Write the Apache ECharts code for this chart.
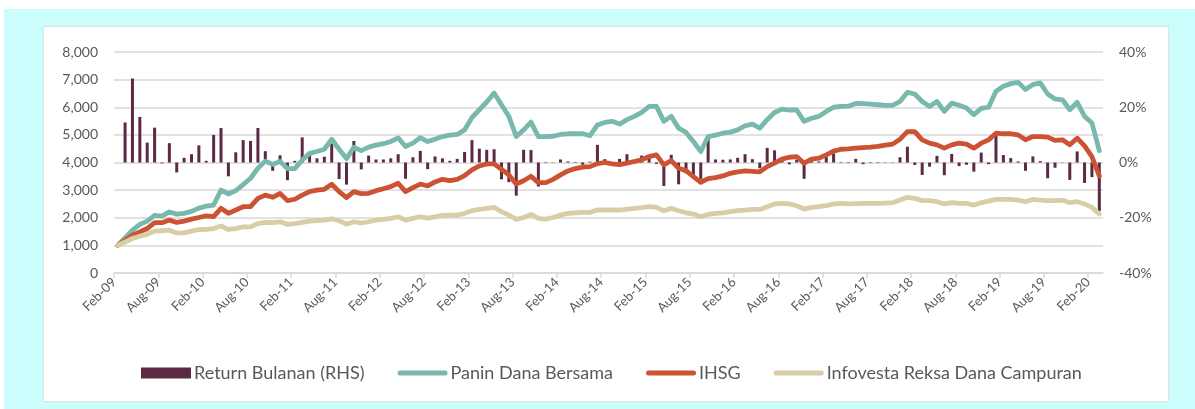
<!DOCTYPE html>
<html><head><meta charset="utf-8">
<script src="https://cdn.jsdelivr.net/npm/echarts@6/dist/echarts.min.js"></script>
<style>
html,body{margin:0;padding:0;background:#fff;}
#frame{position:absolute;left:4px;top:9px;width:1191px;height:400px;background:#ccfdfd;}
#panel{position:absolute;left:43px;top:26px;width:1124px;height:374px;background:#fff;border:1px solid #e2e2e2;}
#chart{position:absolute;left:0;top:0;width:1195px;height:409px;}
</style></head>
<body>
<div id="frame"></div>
<div id="panel"></div>
<div id="chart"></div>
<script>
// Monthly index values, Feb-09 .. Mar-20 (134 points)
const panin = [1000,1270,1550,1760,1880,2090,2060,2210,2130,2160,2230,2350,2420,2460,3000,2860,2980,3200,3430,3790,
4050,3930,4040,3780,3780,4090,4330,4400,4480,4840,4480,4140,4550,4430,4555,4630,4680,4760,4890,4580,
4700,4900,4760,4845,4940,4990,5015,5180,5630,5910,6190,6515,6090,5670,4940,5180,5460,4940,4940,4950,
5015,5040,5040,5040,4970,5360,5450,5490,5390,5550,5670,5810,6030,6030,5490,5670,5245,5090,4760,4400,
4940,4990,5060,5100,5180,5330,5390,5245,5550,5810,5930,5900,5900,5490,5600,5670,5850,6000,6030,6040,
6140,6130,6115,6090,6070,6070,6210,6540,6480,6210,6030,6210,5850,6150,6070,5970,5730,5960,6000,6580,
6760,6855,6900,6640,6820,6880,6480,6300,6270,5910,6180,5670,5430,4430];
const ihsg = [1000,1190,1370,1490,1610,1820,1820,1915,1830,1880,1950,2010,2070,2040,2340,2160,2280,2400,2400,2700,
2820,2740,2880,2620,2670,2820,2945,3000,3030,3210,2945,2730,2945,2870,2885,2980,3050,3125,3250,2945,
3090,3220,3150,3295,3390,3340,3390,3525,3730,3875,3950,3950,3755,3550,3220,3340,3500,3270,3270,3390,
3550,3695,3780,3830,3850,3960,4000,3950,3925,3975,4035,4095,4215,4275,3915,4070,3790,3705,3490,3285,
3415,3450,3515,3610,3660,3695,3680,3660,3850,3975,4120,4190,4215,3975,4120,4155,4275,4410,4480,4490,
4520,4540,4555,4580,4630,4665,4845,5120,5120,4820,4700,4640,4520,4640,4700,4665,4520,4700,4820,5060,
5040,5040,5000,4820,4940,4940,4920,4800,4820,4640,4880,4600,4215,3515];
const infovesta = [1000,1120,1250,1330,1400,1515,1530,1550,1450,1450,1515,1575,1575,1610,1700,1575,1610,1670,1670,1790,
1830,1820,1855,1760,1790,1830,1880,1900,1915,1960,1890,1770,1855,1810,1855,1915,1940,1975,2035,1915,
1975,2035,1990,2035,2085,2095,2095,2160,2255,2300,2340,2375,2220,2095,1940,2010,2120,1975,1950,2010,
2095,2160,2180,2195,2195,2280,2280,2280,2280,2315,2340,2365,2400,2375,2255,2340,2255,2180,2135,2035,
2120,2160,2180,2220,2255,2280,2300,2300,2400,2500,2520,2500,2435,2315,2375,2400,2435,2500,2520,2500,
2510,2520,2520,2520,2530,2545,2640,2740,2700,2620,2620,2580,2500,2545,2520,2520,2460,2545,2605,2665,
2665,2665,2640,2580,2665,2640,2620,2620,2640,2545,2580,2500,2375,2135];
// Monthly return (%), right axis; first month has no return
const returnBulanan = [null,14.5,30.4,16.5,7.2,12.6,-0.3,7.0,-3.6,1.7,3.0,6.2,0.6,10.0,12.5,-5.0,3.7,8.1,7.8,12.5,
4.1,-3.0,2.6,-6.4,0.6,9.1,3.0,1.5,2.1,6.9,-6.0,-8.0,7.8,-2.5,2.5,1.1,1.1,1.5,3.0,-5.9,
1.9,4.2,-2.4,2.2,1.5,0.6,1.3,3.8,8.1,5.0,4.6,4.8,-6.1,-7.1,-12.0,4.6,4.5,-8.7,0.2,0.1,
1.1,0.4,0.2,-0.8,0.3,6.4,1.2,-0.3,1.3,3.0,0.8,2.5,1.9,-0.5,-8.5,2.8,-7.9,-3.9,-5.1,-5.9,
9.9,1.1,1.0,1.1,1.7,3.0,1.2,-2.1,5.3,4.4,0.6,-0.7,1.0,-5.9,1.3,0.4,3.0,3.3,0.2,-0.2,
1.3,-0.6,-0.2,-0.2,0.1,0.1,1.9,5.7,-0.9,-4.5,-1.5,2.4,-4.6,3.1,-1.3,-0.8,-3.3,3.6,-0.6,11.0,
2.7,1.6,0.4,-3.0,2.2,0.5,-5.7,-1.9,0.1,-6.3,4.0,-7.4,-5.3,-17.6];
const monthNames = ['Jan','Feb','Mar','Apr','May','Jun','Jul','Aug','Sep','Oct','Nov','Dec'];
const seriesNames = ['Return Bulanan (RHS)','Panin Dana Bersama','IHSG','Infovesta Reksa Dana Campuran'];
const leftTicks = {min:0,max:8000,interval:1000};
const rightTicks = {min:-40,max:40,interval:20};

// month categories from Feb-09 (data slots) and axis boundaries (one more)
function monthList(n){const out=[];let m=1,y=2009;for(let i=0;i<n;i++){out.push(monthNames[m]+'-'+String(y%100).padStart(2,'0'));m++;if(m>11){m=0;y++;}}return out;}
const dataMonths = monthList(panin.length);
const axisMonths = monthList(panin.length+1);

const txt = '#595959', grid = '#d9d9d9', font = 'Lato';
const colors = ['#5c2a44','#79b8ad','#cc5233','#d9cda6'];
// legend line icon: rounded stroke in a 50x11 box
const lineIcon = 'path://M0,0M50,11M2.5,3L47.5,3A2.5,2.5 0 0 1 47.5,8L2.5,8A2.5,2.5 0 0 1 2.5,3Z';

const chart = echarts.init(document.getElementById('chart'), null, {renderer:'canvas'});
chart.setOption({
  animation:false,
  backgroundColor:'transparent',
  textStyle:{fontFamily:font},
  grid:{left:114,right:92,top:52,bottom:136},
  legend:{
    left:136, top:359, itemWidth:50, itemHeight:11, itemGap:33,
    textStyle:{color:txt,fontSize:18,fontFamily:font,padding:[0,0,0,-2]},
    itemStyle:{borderWidth:0},
    data:[
      {name:seriesNames[0],icon:'rect'},
      {name:seriesNames[1],icon:lineIcon},
      {name:seriesNames[2],icon:lineIcon},
      {name:seriesNames[3],icon:lineIcon}
    ]
  },
  xAxis:[
    {type:'category',data:axisMonths,boundaryGap:false,
     axisLine:{lineStyle:{color:grid,width:1.5}},
     axisTick:{interval:5,length:5,lineStyle:{color:grid,width:1.5}},
     axisLabel:{interval:5,rotate:45,color:txt,fontSize:13,margin:7,fontFamily:font},
     splitLine:{show:false}},
    {type:'category',data:dataMonths,boundaryGap:true,show:false}
  ],
  yAxis:[
    {type:'value',min:leftTicks.min,max:leftTicks.max,interval:leftTicks.interval,
     axisLine:{show:false},axisTick:{show:false},
     axisLabel:{color:txt,fontSize:14,margin:16,fontFamily:font,formatter:v=>v.toLocaleString('en-US')},
     splitLine:{lineStyle:{color:grid,width:1.5}}},
    {type:'value',min:rightTicks.min,max:rightTicks.max,interval:rightTicks.interval,
     axisLine:{show:false},axisTick:{show:false},
     axisLabel:{color:txt,fontSize:14,margin:16,fontFamily:font,formatter:'{value}%'},
     splitLine:{show:false}}
  ],
  series:[
    {name:seriesNames[0],type:'bar',xAxisIndex:1,yAxisIndex:1,data:returnBulanan,barWidth:3,
     itemStyle:{color:colors[0]}},
    {name:seriesNames[1],type:'line',xAxisIndex:1,yAxisIndex:0,data:panin,symbol:'none',
     lineStyle:{color:colors[1],width:4.8,cap:'round',join:'round'},itemStyle:{color:colors[1]}},
    {name:seriesNames[2],type:'line',xAxisIndex:1,yAxisIndex:0,data:ihsg,symbol:'none',
     lineStyle:{color:colors[2],width:4.8,cap:'round',join:'round'},itemStyle:{color:colors[2]}},
    {name:seriesNames[3],type:'line',xAxisIndex:1,yAxisIndex:0,data:infovesta,symbol:'none',
     lineStyle:{color:colors[3],width:4.8,cap:'round',join:'round'},itemStyle:{color:colors[3]}}
  ]
});
</script>
</body></html>
